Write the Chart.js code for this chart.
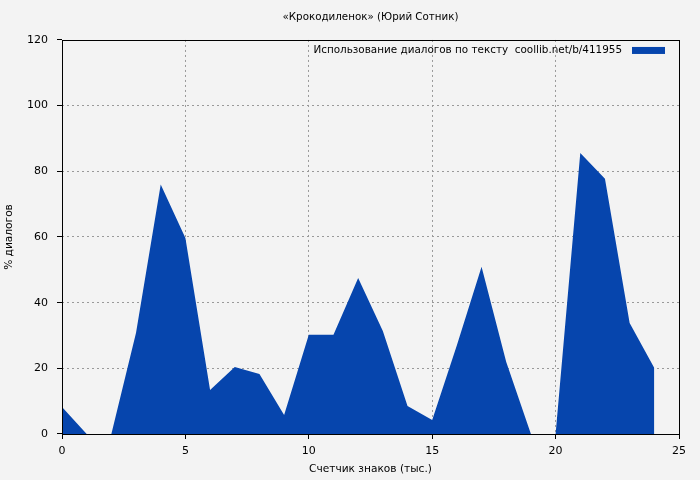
<!DOCTYPE html>
<html>
<head>
<meta charset="utf-8">
<script src="https://cdn.jsdelivr.net/npm/chart.js@4"></script>
<style>
  html, body { margin: 0; padding: 0; background: #f3f3f3; }
  #wrap { width: 700px; height: 480px; }
</style>
</head>
<body>
<div id="wrap"><canvas id="dialogChart" width="700" height="480"></canvas></div>
<script>
// thousands of characters read
const charCounts = [0, 1, 2, 3, 4, 5, 6, 7, 8, 9, 10, 11, 12, 13, 14, 15, 16, 17, 18, 19, 20, 21, 22, 23, 24];
// % of dialogue in each chunk
const dialogShare = [8.2, 0, 0, 30.8, 76, 59.7, 13.4, 20.4, 18.3, 5.8, 30.2, 30.2, 47.5, 31.4, 8.5, 4.3, 27, 50.9, 21.9, 0, 0, 85.6, 77.7, 33.8, 20.1];
const xTicks = [0, 5, 10, 15, 20, 25];
const yTicks = [0, 20, 40, 60, 80, 100, 120];

const seriesLabel = 'Использование диалогов по тексту  coollib.net/b/411955';
const fillColor = '#0645ad';

Chart.defaults.font.family = 'DejaVu Sans';
Chart.defaults.font.size = 11;
Chart.defaults.color = '#000';

const bgAndFrame = {
    id: 'bgAndFrame',
    beforeDraw(chart) {
        const c = chart.ctx;
        c.save();
        c.fillStyle = '#f3f3f3';
        c.fillRect(0, 0, chart.width, chart.height);
        c.restore();
    },
    afterDraw(chart) {
        const c = chart.ctx;
        const a = chart.chartArea;
        c.save();
        c.strokeStyle = '#000';
        c.lineWidth = 1;
        c.strokeRect(Math.round(a.left) + 0.5, Math.round(a.top) + 0.5,
            Math.round(a.right - a.left), Math.round(a.bottom - a.top));

        // legend: text then swatch, top right inside the plot
        const label = chart.data.datasets[0].label;
        c.font = '10.4px "DejaVu Sans"';
        c.fillStyle = '#000';
        c.textAlign = 'right';
        c.textBaseline = 'middle';
        const boxRight = a.right - 14;
        const boxW = 33;
        c.fillText(label, boxRight - boxW - 10, a.top + 10.5);
        c.fillStyle = fillColor;
        c.fillRect(boxRight - boxW, a.top + 7, boxW, 7);
        c.restore();
    }
};

function gridColor(ctx) {
    const v = ctx.tick ? ctx.tick.value : null;
    const scale = ctx.scale;
    if (v === scale.min || v === scale.max) return 'rgba(0,0,0,0)';
    return '#999';
}

const ctx = document.getElementById('dialogChart').getContext('2d');
const dialogChart = new Chart(ctx, {
    type: 'line',
    data: {
        datasets: [{
            label: seriesLabel,
            data: charCounts.map((x, i) => ({ x: x, y: dialogShare[i] })),
            backgroundColor: fillColor,
            borderColor: fillColor,
            borderWidth: 0,
            fill: 'origin',
            tension: 0,
            pointRadius: 0
        }]
    },
    options: {
        responsive: false,
        animation: false,
        layout: { padding: { right: 21, left: 0, top: 0, bottom: 0 } },
        plugins: {
            legend: { display: false },
            tooltip: { enabled: false },
            title: {
                display: true,
                text: '«Крокодиленок» (Юрий Сотник)',
                fullSize: false,
                font: { size: 10.3, weight: 'normal', lineHeight: 1.2 },
                color: '#000',
                padding: { top: 11.5, bottom: 16.1 }
            }
        },
        scales: {
            x: {
                type: 'linear',
                min: 0,
                max: 25,
                afterBuildTicks(scale) { scale.ticks = xTicks.map(v => ({ value: v })); },
                afterFit(scale) { scale.height = 46; },
                ticks: { padding: 6, maxRotation: 0, font: { size: 11 } },
                grid: { color: gridColor, tickColor: '#000', tickLength: 5 },
                border: { display: false, dash: [2, 3] },
                title: {
                    display: true,
                    text: 'Счетчик знаков (тыс.)',
                    font: { size: 10.6 },
                    padding: { top: 0, bottom: 4 }
                }
            },
            y: {
                min: 0,
                max: 120,
                afterBuildTicks(scale) { scale.ticks = yTicks.map(v => ({ value: v })); },
                afterFit(scale) { scale.width = 62; },
                ticks: { padding: 9, font: { size: 11 } },
                grid: { color: gridColor, tickColor: '#000', tickLength: 5 },
                border: { display: false, dash: [2, 3] },
                title: {
                    display: true,
                    text: '% диалогов',
                    font: { size: 10.6 },
                    padding: { top: 2.5, bottom: 0 }
                }
            }
        }
    },
    plugins: [bgAndFrame]
});
</script>
</body>
</html>
